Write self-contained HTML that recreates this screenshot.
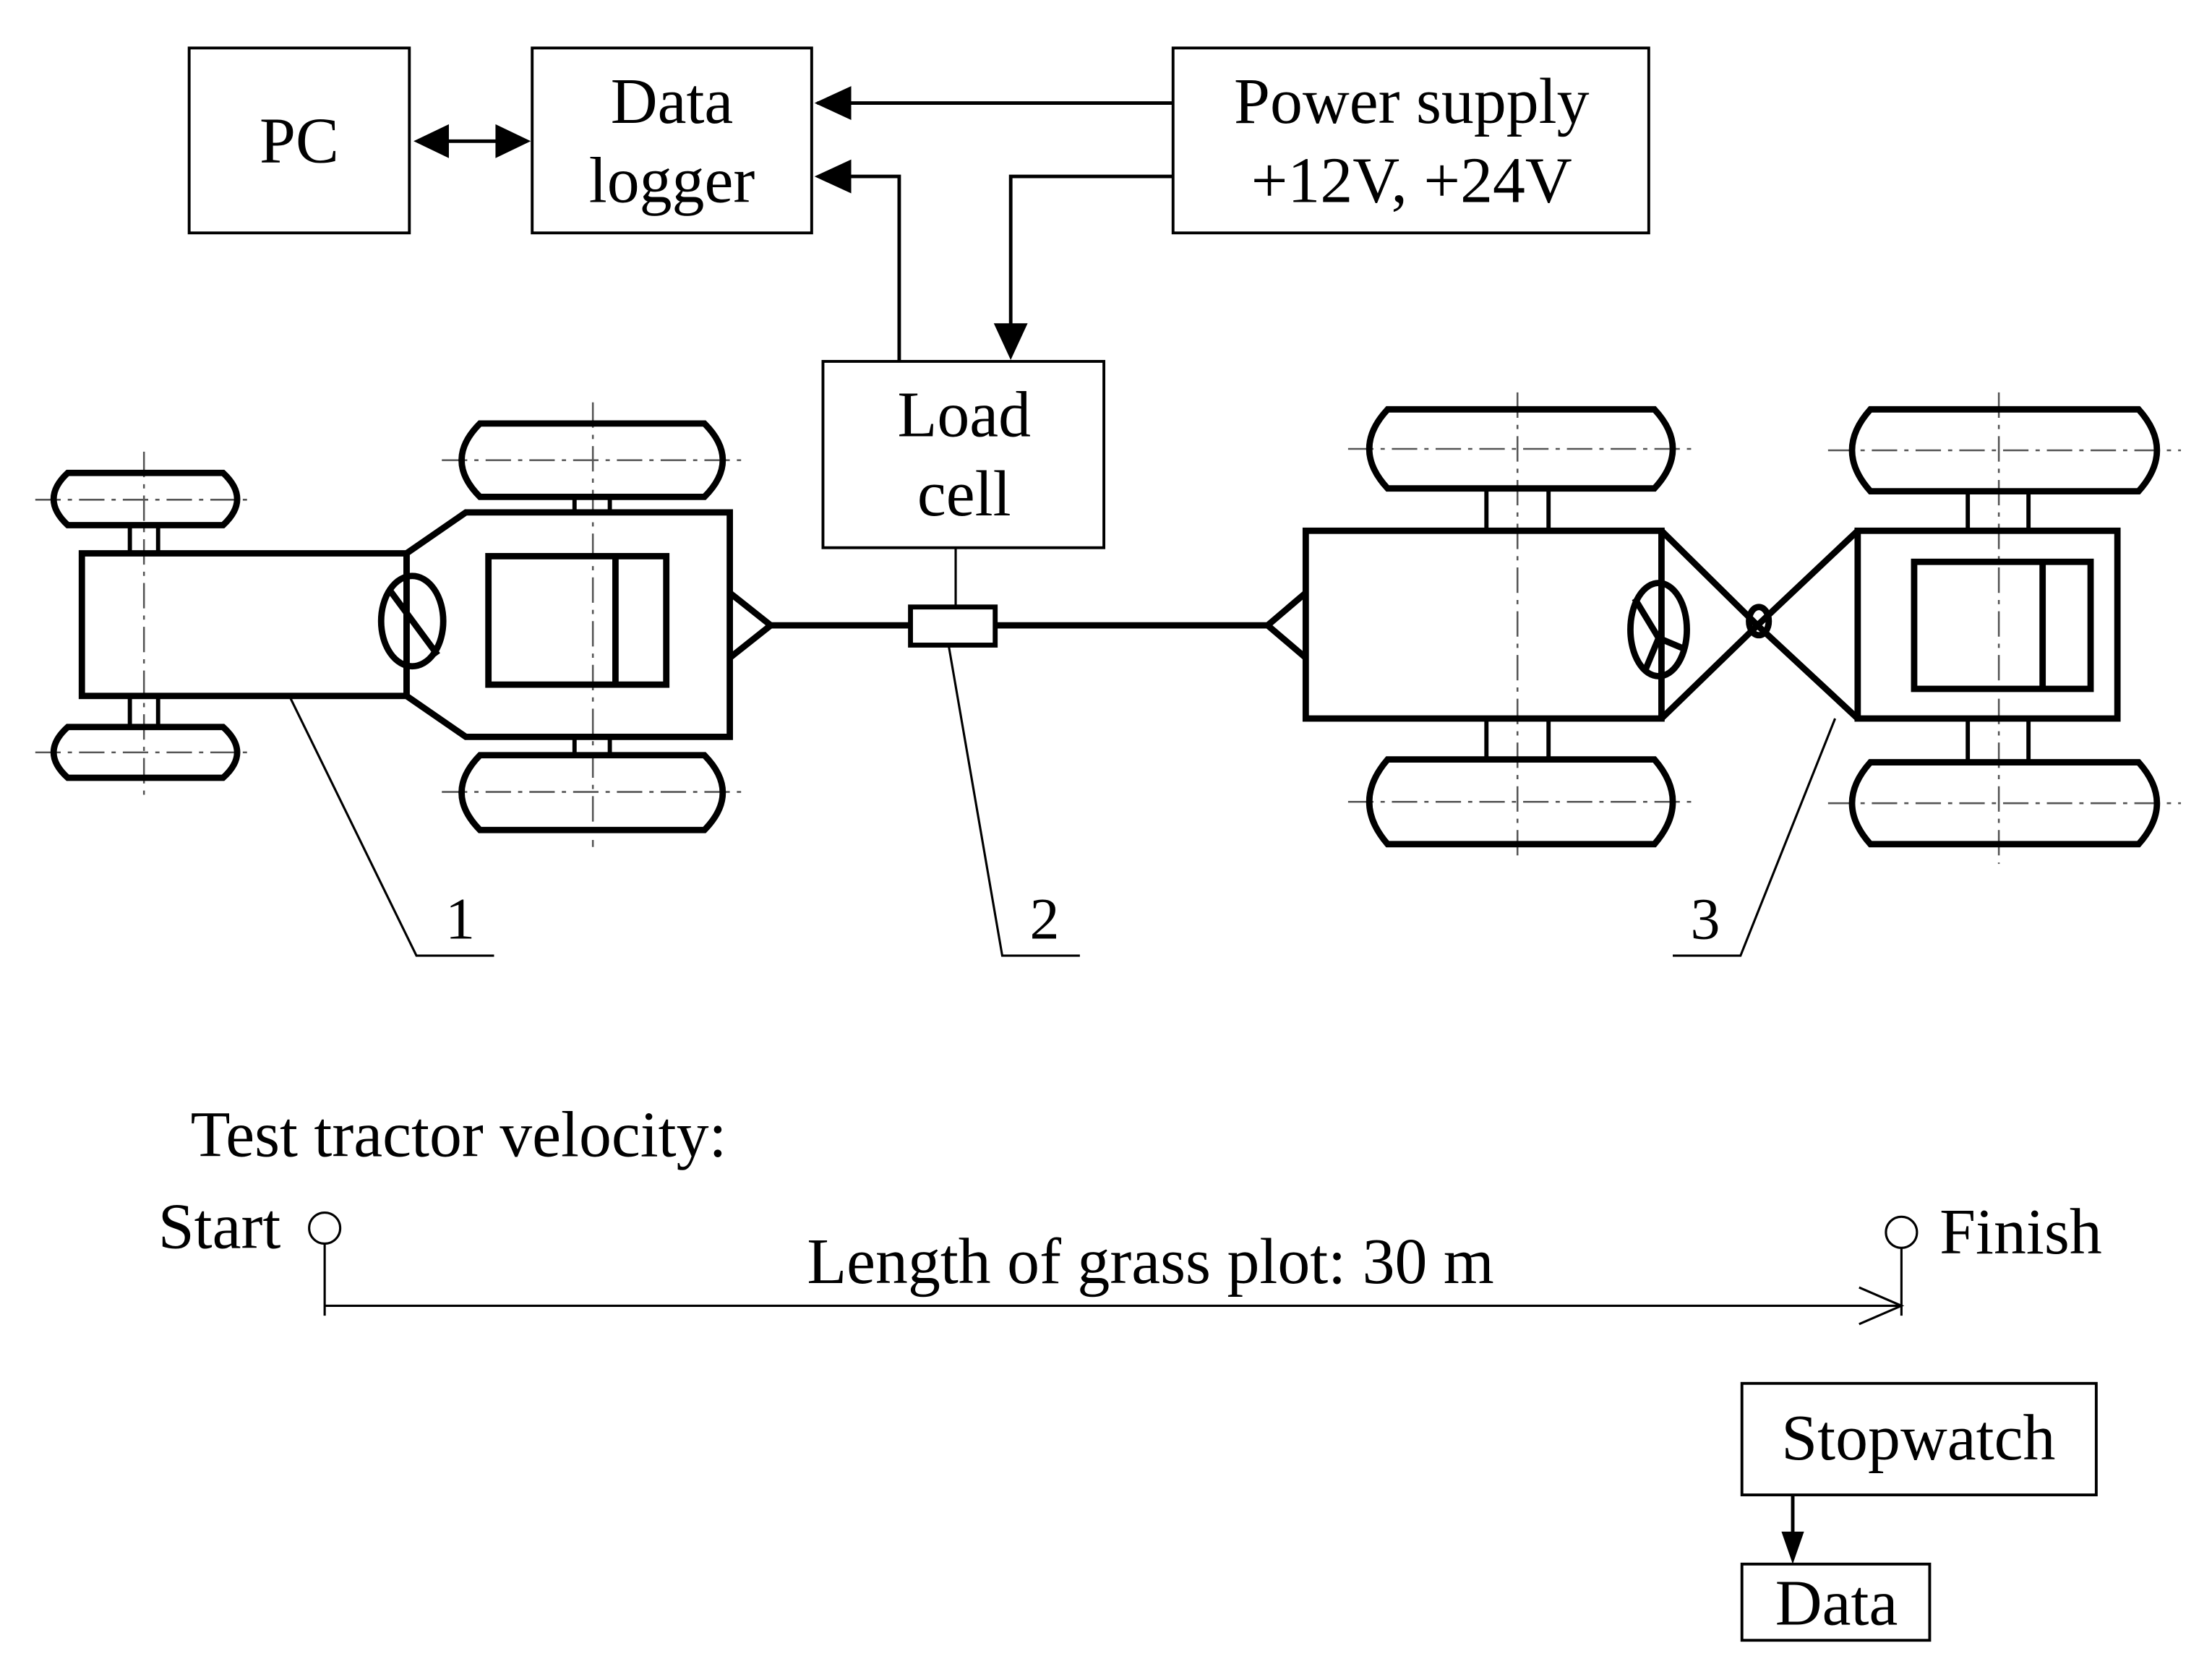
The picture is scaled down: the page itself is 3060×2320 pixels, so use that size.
<!DOCTYPE html>
<html><head><meta charset="utf-8"><style>
html,body{margin:0;padding:0;background:#fff}
svg{display:block}
text{font-family:"Liberation Serif",serif;fill:#000}
</style></head><body>
<svg width="3060" height="2320" viewBox="0 0 1567 1188" preserveAspectRatio="none" xmlns="http://www.w3.org/2000/svg">
<rect width="1567" height="1188" fill="#fff"/>
<g fill="none" stroke="#000" stroke-width="2">
<rect x="134" y="34" width="156" height="131"/>
<rect x="377" y="34" width="198" height="131"/>
<rect x="831" y="34" width="337" height="131"/>
<rect x="583" y="256" width="199" height="132"/>
<rect x="1234" y="980" width="251" height="79"/>
<rect x="1234" y="1108" width="133" height="54"/>
</g>
<g stroke="#000" stroke-width="2.5" fill="none">
<line x1="831" y1="73" x2="579" y2="73"/>
<polygon points="577,73 603,61 603,85" fill="#000" stroke="none"/>
<line x1="296" y1="100" x2="373" y2="100"/>
<polygon points="293,100 318,88 318,112" fill="#000" stroke="none"/>
<polygon points="376,100 351,88 351,112" fill="#000" stroke="none"/>
<polyline points="831,125 716,125 716,235"/>
<polygon points="716,255 704,229 728,229" fill="#000" stroke="none"/>
<polyline points="637,256 637,125 600,125"/>
<polygon points="577,125 603,113 603,137" fill="#000" stroke="none"/>
<line x1="1270" y1="1059" x2="1270" y2="1090"/>
<polygon points="1270,1108 1262,1085 1278,1085" fill="#000" stroke="none"/>
</g>
<g font-size="46" text-anchor="middle">
<text x="212" y="115">PC</text>
<text x="476" y="87">Data</text>
<text x="476" y="143">logger</text>
<text x="1000" y="87">Power supply</text>
<text x="1000" y="143">+12V, +24V</text>
<text x="683" y="309">Load</text>
<text x="683" y="365">cell</text>
<text x="1359" y="1034">Stopwatch</text>
<text x="1301" y="1151">Data</text>
<text x="815" y="909">Length of grass plot: 30 m</text>
</g>
<g font-size="46">
<text x="135" y="819">Test tractor velocity:</text>
<text x="112" y="884">Start</text>
<text x="1374" y="888">Finish</text>
</g>
<g font-size="42" text-anchor="middle">
<text x="326" y="665">1</text>
<text x="740" y="665">2</text>
<text x="1208" y="665">3</text>
</g>
<g stroke="#000" stroke-width="1.6" fill="none">
<circle cx="230" cy="870" r="11"/>
<circle cx="1347" cy="873" r="11"/>
<line x1="230" y1="881" x2="230" y2="932"/>
<line x1="1347" y1="884" x2="1347" y2="932"/>
<line x1="230" y1="925" x2="1347" y2="925"/>
<polyline points="1317,912 1347,925 1317,938"/>
</g>
<g stroke="#555" stroke-width="1.3" stroke-dasharray="18,5,3,5" fill="none">
<line x1="102" y1="320" x2="102" y2="565"/>
<line x1="420" y1="285" x2="420" y2="600"/>
<line x1="1075" y1="278" x2="1075" y2="610"/>
<line x1="1416" y1="278" x2="1416" y2="612"/>
<line x1="25" y1="354" x2="180" y2="354"/>
<line x1="25" y1="533" x2="180" y2="533"/>
<line x1="313" y1="326" x2="525" y2="326"/>
<line x1="313" y1="561" x2="525" y2="561"/>
<line x1="955" y1="318" x2="1200" y2="318"/>
<line x1="955" y1="568" x2="1200" y2="568"/>
<line x1="1295" y1="319" x2="1545" y2="319"/>
<line x1="1295" y1="569" x2="1545" y2="569"/>
</g>
<g stroke="#000" stroke-width="4.5" fill="none" stroke-linejoin="miter">
<path d="M48,335 H158 Q178,353.5 158,372 H48 Q28,353.5 48,335 Z"/>
<path d="M48,515 H158 Q178,533 158,551 H48 Q28,533 48,515 Z"/>
<path d="M340,300 H499 Q525,326 499,352 H340 Q314,326 340,300 Z"/>
<path d="M340,535 H499 Q525,561.5 499,588 H340 Q314,561.5 340,535 Z"/>
<path d="M983,290 H1172 Q1198,318 1172,346 H983 Q957,318 983,290 Z"/>
<path d="M983,538 H1172 Q1198,568 1172,598 H983 Q957,568 983,538 Z"/>
<path d="M1325,290 H1515 Q1541,319 1515,348 H1325 Q1299,319 1325,290 Z"/>
<path d="M1325,540 H1515 Q1541,569 1515,598 H1325 Q1299,569 1325,540 Z"/>
</g>
<g stroke="#000" stroke-width="3" fill="none">
<rect x="92" y="372" width="20" height="20"/>
<rect x="92" y="493" width="20" height="22"/>
<rect x="407" y="352" width="25" height="11"/>
<rect x="407" y="522" width="25" height="13"/>
<rect x="1053" y="346" width="44" height="30"/>
<rect x="1053" y="509" width="44" height="29"/>
<rect x="1394" y="348" width="43" height="28"/>
<rect x="1394" y="509" width="43" height="31"/>
</g>
<g stroke="#000" stroke-width="4.5" fill="none">
<rect x="58" y="392" width="230" height="101"/>
<polygon points="288,392 330,363 517,363 517,522 330,522 288,493"/>
<rect x="346" y="394" width="126" height="91"/>
<line x1="436" y1="394" x2="436" y2="485"/>
<ellipse cx="292" cy="440" rx="22" ry="32"/>
<line x1="276" y1="418" x2="310" y2="464"/>
<polyline points="517,420 546,443 517,466"/>
<rect x="925" y="376" width="252" height="133"/>
<polyline points="925,420 898,443 925,466"/>
<polyline points="1177,376 1245,443 1177,509"/>
<polyline points="1316,376 1245,443 1316,509"/>
<ellipse cx="1246" cy="440" rx="7" ry="10"/>
<ellipse cx="1175" cy="446" rx="20" ry="33"/>
<line x1="1158" y1="424" x2="1175" y2="452"/>
<line x1="1175" y1="452" x2="1194" y2="460"/>
<line x1="1175" y1="452" x2="1165" y2="476"/>
<rect x="1316" y="376" width="184" height="133"/>
<rect x="1356" y="398" width="125" height="90"/>
<line x1="1447" y1="398" x2="1447" y2="488"/>
<line x1="546" y1="443" x2="645" y2="443"/>
<line x1="705" y1="443" x2="898" y2="443"/>
<rect x="645" y="430" width="60" height="27" stroke-width="3.5"/>
</g>
<g stroke="#000" stroke-width="1.6" fill="none">
<line x1="677" y1="388" x2="677" y2="430"/>
<polyline points="205,493 295,677 350,677"/>
<polyline points="672,457 710,677 765,677"/>
<polyline points="1300,509 1233,677 1185,677"/>
</g>
</svg>
</body></html>
